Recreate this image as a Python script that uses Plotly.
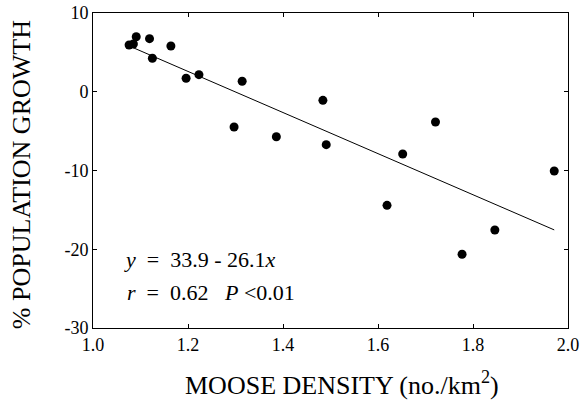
import plotly.graph_objects as go

density = [1.076, 1.085, 1.091, 1.119, 1.164, 1.125, 1.196, 1.223, 1.314, 1.297,
           1.386, 1.484, 1.491, 1.652, 1.721, 1.619, 1.846, 1.777, 1.971]
growth = [5.94, 6.06, 6.99, 6.74, 5.81, 4.25, 1.71, 2.17, 1.33, -4.48,
          -5.71, -1.09, -6.72, -7.90, -3.84, -14.42, -17.56, -20.64, -10.06]
intercept = 33.9
slope = -26.1
x_ticks = [1.0, 1.2, 1.4, 1.6, 1.8, 2.0]
y_ticks = [10, 0, -10, -20, -30]

xmin, xmax = min(density), max(density)
fit_x = [xmin, xmax]
fit_y = [intercept + slope * v for v in fit_x]

serif = "Liberation Serif, Times New Roman, serif"

fig = go.Figure()
fig.add_trace(go.Scatter(x=fit_x, y=fit_y, mode="lines",
                         line=dict(color="black", width=1), hoverinfo="skip"))
fig.add_trace(go.Scatter(x=density, y=growth, mode="markers",
                         marker=dict(color="black", size=9)))

fig.add_annotation(x=1.061, y=-21.3, xanchor="left", yanchor="middle", showarrow=False,
                   text="<i>y</i>&nbsp; =&nbsp; 33.9 - 26.1<i>x</i>",
                   font=dict(family=serif, size=22, color="black"))
fig.add_annotation(x=1.067, y=-25.5, xanchor="left", yanchor="middle", showarrow=False,
                   text="<i>r</i>&nbsp; =&nbsp; 0.62&nbsp;&nbsp; <i>P</i> &lt;0.01",
                   font=dict(family=serif, size=22, color="black"))

fig.add_annotation(xref="paper", yref="paper", x=0.525, y=-0.175,
                   xanchor="center", yanchor="middle", showarrow=False,
                   text="MOOSE DENSITY (no./km<sup>2</sup>)",
                   font=dict(family=serif, size=26, color="black"))
fig.add_annotation(xref="paper", yref="paper", x=-0.149, y=0.486,
                   xanchor="center", yanchor="middle", showarrow=False, textangle=-90,
                   text="% POPULATION GROWTH",
                   font=dict(family=serif, size=26, color="black"))

axis_common = dict(showgrid=False, zeroline=False, showline=True, linecolor="black",
                   linewidth=1, mirror="allticks", ticks="inside", ticklen=4,
                   tickcolor="black", automargin=False,
                   tickfont=dict(family=serif, size=18, color="black"))

fig.update_xaxes(range=[1.0, 2.0], tickvals=x_ticks,
                 ticktext=[f"{v:.1f}" for v in x_ticks], **axis_common)
fig.update_yaxes(range=[-30, 10], tickvals=y_ticks,
                 ticktext=[str(v) for v in y_ticks], **axis_common)

fig.update_layout(width=581, height=401, showlegend=False,
                  margin=dict(l=93, r=13, t=13, b=73),
                  paper_bgcolor="white", plot_bgcolor="white")

fig.write_html("out.html", config={"displayModeBar": False},
               post_script="document.body.style.margin='0px';document.body.style.overflow='hidden';")
